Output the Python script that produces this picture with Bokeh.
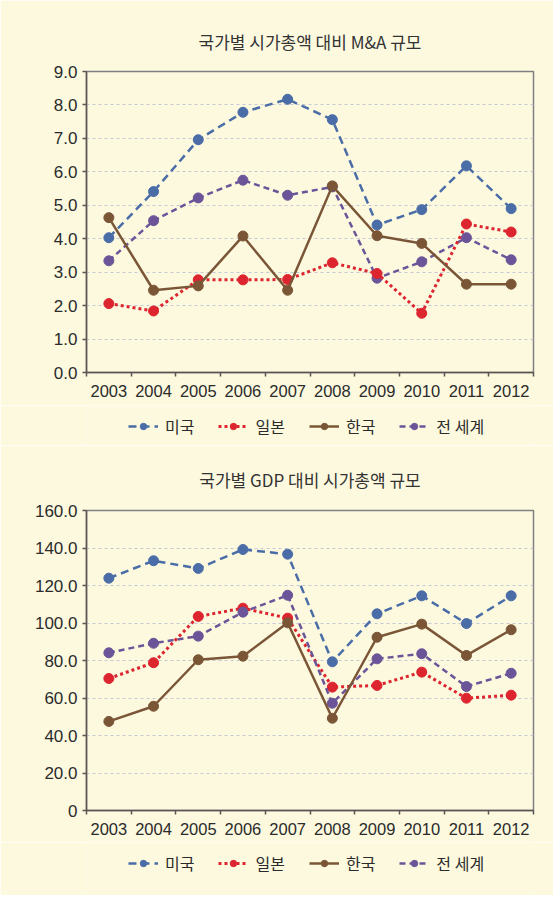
from bokeh.plotting import figure
from bokeh.models import FixedTicker, Legend, LegendItem, Range1d
from bokeh.layouts import column
from bokeh.embed import file_html
from bokeh.resources import INLINE

years = ["2003", "2004", "2005", "2006", "2007", "2008", "2009", "2010", "2011", "2012"]
series_names = ["미국", "일본", "한국", "전 세계"]

ma_title = "국가별 시가총액 대비 M&A 규모"
ma_us = [4.03, 5.41, 6.96, 7.78, 8.17, 7.56, 4.41, 4.87, 6.18, 4.90]
ma_jp = [2.06, 1.84, 2.77, 2.77, 2.78, 3.28, 2.96, 1.77, 4.44, 4.20]
ma_kr = [4.63, 2.46, 2.59, 4.08, 2.46, 5.58, 4.09, 3.86, 2.64, 2.64]
ma_world = [3.34, 4.54, 5.22, 5.75, 5.30, 5.55, 2.82, 3.31, 4.03, 3.37]
ma_ticks = [0, 1, 2, 3, 4, 5, 6, 7, 8, 9]
ma_tick_labels = ["0.0", "1.0", "2.0", "3.0", "4.0", "5.0", "6.0", "7.0", "8.0", "9.0"]

gdp_title = "국가별 GDP 대비 시가총액 규모"
gdp_us = [123.9, 133.2, 129.1, 139.2, 136.7, 79.3, 104.9, 114.5, 99.7, 114.5]
gdp_jp = [70.4, 78.8, 103.5, 107.9, 102.6, 65.8, 66.7, 73.8, 59.9, 61.5]
gdp_kr = [47.5, 55.6, 80.4, 82.3, 100.1, 49.2, 92.4, 99.4, 82.7, 96.4]
gdp_world = [84.1, 89.2, 93.0, 105.8, 114.8, 57.2, 80.9, 83.6, 66.1, 73.2]
gdp_ticks = [0, 20, 40, 60, 80, 100, 120, 140, 160]
gdp_tick_labels = ["0", "20.0", "40.0", "60.0", "80.0", "100.0", "120.0", "140.0", "160.0"]

BG = "#FCF9DF"
COLORS = ["#4A6DA7", "#DD2530", "#7A5637", "#6B5598"]
DASHES = ["8 5", "3 3", "solid", "6 4"]
WIDTHS = [2.5, 3, 2.5, 2.5]
KFONT = "Noto Sans CJK KR"
NFONT = "Liberation Sans"
W = 553


def build(title, values, ticks, tick_labels, height, top, bottom, order, standoff):
    p = figure(width=W, height=height, output_backend="svg", toolbar_location=None,
               min_border_left=86, min_border_right=20, min_border_top=top,
               min_border_bottom=bottom,
               x_range=Range1d(0, len(years)), y_range=Range1d(ticks[0], ticks[-1]))
    p.background_fill_color = BG
    p.border_fill_color = BG
    p.outline_line_color = "#808080"
    p.outline_line_width = 1.5

    p.title.text = title
    p.title.align = "center"
    p.title.text_font = KFONT
    p.title.text_font_size = "17px"
    p.title.text_font_style = "normal"
    p.title.text_color = "#333333"
    p.title.standoff = standoff

    xs = [i + 0.5 for i in range(len(years))]
    xax = p.xaxis[0]
    xax.ticker = FixedTicker(ticks=xs, minor_ticks=list(range(len(years) + 1)))
    xax.major_label_overrides = {x: y for x, y in zip(xs, years)}
    xax.major_tick_out = 0
    xax.major_tick_in = 0
    xax.minor_tick_in = 0
    xax.minor_tick_out = 4
    xax.minor_tick_line_color = "#5A5550"
    xax.minor_tick_line_width = 1.5
    xax.axis_line_color = "#5A5550"
    xax.axis_line_width = 1.5
    xax.major_label_text_font = NFONT
    xax.major_label_text_font_size = "16.5px"
    xax.major_label_text_color = "#2B2B2B"
    xax.major_label_standoff = 8

    yax = p.yaxis[0]
    yax.ticker = FixedTicker(ticks=ticks, minor_ticks=[])
    yax.major_label_overrides = {t: l for t, l in zip(ticks, tick_labels)}
    yax.major_tick_out = 4
    yax.major_tick_in = 0
    yax.major_tick_line_color = "#5A5550"
    yax.major_tick_line_width = 1.5
    yax.axis_line_color = "#5A5550"
    yax.axis_line_width = 1.5
    yax.major_label_text_font = NFONT
    yax.major_label_text_font_size = "17px"
    yax.major_label_text_color = "#2B2B2B"
    yax.major_label_standoff = 5

    p.xgrid.grid_line_color = None
    p.ygrid.ticker = FixedTicker(ticks=ticks[1:-1])
    p.ygrid.grid_line_color = "#C5C9D6"
    p.ygrid.grid_line_dash = "3 3"
    p.ygrid.grid_line_width = 1

    for i in order:
        vals = values[i]
        p.line(xs, vals, line_color=COLORS[i], line_width=WIDTHS[i], line_dash=DASHES[i])
        p.scatter(xs, vals, size=10, marker="circle", fill_color=COLORS[i],
                  line_color=COLORS[i])
    return p


def legend_fig(height, loc, values):
    # separate strip holding only the legend; its renderers use the series data
    # but sit outside this strip's ranges, so only the legend shows
    lf = figure(width=W, height=height, output_backend="svg", toolbar_location=None,
                min_border=0, title=None,
                x_range=Range1d(-2, -1), y_range=Range1d(-2, -1))
    lf.axis.visible = False
    lf.grid.visible = False
    lf.outline_line_color = None
    lf.background_fill_color = BG
    lf.border_fill_color = BG
    xs = [i + 0.5 for i in range(len(years))]
    items = []
    for i, name in enumerate(series_names):
        ln = lf.line(xs, values[i], line_color=COLORS[i], line_width=WIDTHS[i],
                     line_dash=DASHES[i])
        sc = lf.scatter(xs, values[i], size=10, marker="circle", fill_color=COLORS[i],
                        line_color=COLORS[i])
        items.append(LegendItem(label=name, renderers=[ln, sc]))
    legend = Legend(items=items, orientation="horizontal", location=loc,
                    border_line_color=None, background_fill_alpha=0,
                    glyph_width=30, glyph_height=16, label_text_font=KFONT,
                    label_text_font_size="16px", label_text_color="#2B2B2B",
                    spacing=24, label_standoff=7, padding=0, margin=0)
    lf.add_layout(legend, "center")
    return lf


ma_values = [ma_us, ma_jp, ma_kr, ma_world]
gdp_values = [gdp_us, gdp_jp, gdp_kr, gdp_world]

p1 = build(ma_title, ma_values, ma_ticks, ma_tick_labels, 405, 71, 33, [0, 3, 1, 2], 36)
l1 = legend_fig(40, (42, 7), ma_values)
p2 = build(gdp_title, gdp_values, gdp_ticks, gdp_tick_labels, 397, 65, 32, [0, 1, 3, 2], 37)
l2 = legend_fig(53, (42, 20), gdp_values)

layout = column(p1, l1, p2, l2, spacing=0)
open("out.html", "w").write(file_html(layout, INLINE))
